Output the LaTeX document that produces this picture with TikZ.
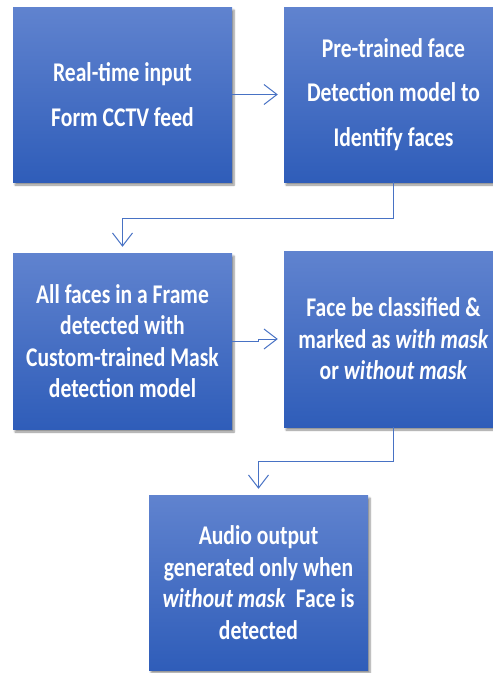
\documentclass[tikz,border=0pt]{standalone}
\usepackage{fontspec}
\setmainfont{Carlito}[FakeStretch=0.8]
\usetikzlibrary{arrows.meta,shadows.blur}
\definecolor{boxtop}{RGB}{96,131,207}
\definecolor{boxbot}{RGB}{47,93,185}
\definecolor{linec}{RGB}{72,114,196}
\begin{document}
\begin{tikzpicture}[x=1pt,y=-1pt,
  flowbox/.style={rectangle, minimum width=219pt, minimum height=175pt, inner sep=0pt,
    top color=boxtop, bottom color=boxbot, draw=none, text=white, align=center,
    font=\fontsize{27}{31.5}\selectfont\bfseries,
    blur shadow={shadow xshift=2pt, shadow yshift=-3pt, shadow blur steps=6, shadow opacity=45}},
  widebox/.style={font=\fontsize{27}{44.5}\selectfont\bfseries},
  conn/.style={draw=linec, line width=1pt,
    -{Straight Barb[length=13pt,width=20pt,line width=1pt]}, shorten >=6pt}]
\useasboundingbox (0,0) rectangle (493,673);
\clip (0,0) rectangle (493,673);
\node[flowbox, widebox] (b1) at (122.5,94.5) {Real-time input\\Form CCTV feed};
\node[flowbox, widebox] (b2) at (393.5,94.5) {Pre-trained face\\Detection model to\\Identify faces};
\node[flowbox, minimum height=176pt] (b3) at (122.5,341) {All faces in a Frame\\detected with\\Custom-trained Mask\\detection model};
\node[flowbox, minimum height=176pt] (b4) at (393.5,339) {Face be classified \&\\marked as \textit{with mask}\\or \textit{without mask}};
\node[flowbox] (b5) at (258.5,582.5) {Audio output\\generated only when\\\textit{without mask}\ \ Face is\\detected};
\draw[conn] (b1.east) -- (b2.west);
\draw[conn] (b2.south) -- ++(0,36) -| (b3.north);
\draw[conn] (b3.east) -- ++(26,0) |- (b4.west);
\draw[conn] (b4.south) -- ++(0,34) -| (b5.north);
\end{tikzpicture}
\end{document}
